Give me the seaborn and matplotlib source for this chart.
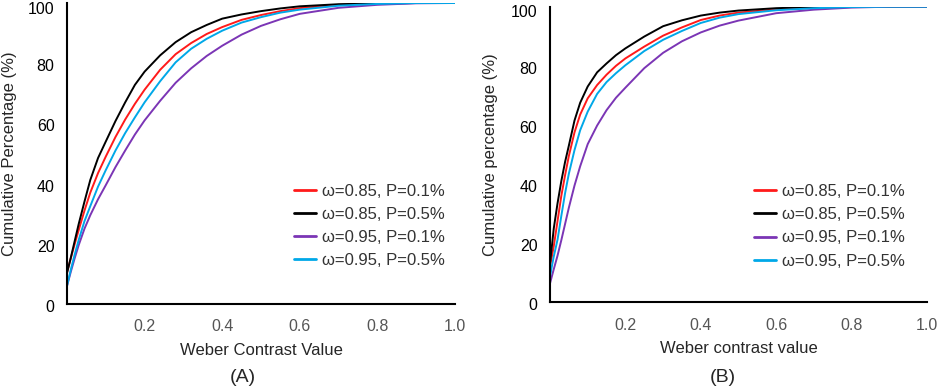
import numpy as np
import pandas as pd
import matplotlib
matplotlib.use("Agg")
import matplotlib.pyplot as plt
import matplotlib.transforms as mtransforms
import seaborn as sns

sns.set_theme(style="white")
plt.rcParams['font.family'] = ['Liberation Sans', 'DejaVu Sans']

series_labels = ["ω=0.85, P=0.1%", "ω=0.85, P=0.5%", "ω=0.95, P=0.1%", "ω=0.95, P=0.5%"]
series_colors = ["#ff1a1a", "#000000", "#7b35b5", "#00a8e8"]

# Panel A
xa = [0, 0.01, 0.02, 0.03, 0.045, 0.06, 0.08, 0.1, 0.125, 0.15, 0.175, 0.2, 0.24, 0.28,
      0.32, 0.36, 0.4, 0.45, 0.5, 0.55, 0.6, 0.7, 0.8, 0.9, 1.0]
a_red    = [10.5, 15.3, 20, 24.5, 31, 37, 43.5, 49, 55.5, 61.3, 66.5, 71.2, 77.8, 83,
            86.7, 89.7, 92, 94.4, 96, 97.3, 98.3, 99.4, 99.8, 100, 100]
a_black  = [10.3, 15.5, 21, 26.5, 34, 41.2, 48.5, 54, 60.8, 67, 72.8, 77.2, 82.6, 87,
            90.3, 92.7, 94.8, 96.2, 97.3, 98.2, 98.9, 99.6, 99.9, 100, 100]
a_purple = [6, 10.8, 15.3, 19.5, 25, 29.5, 34.8, 39.5, 45.5, 51, 56.3, 61, 67.5, 73.5,
            78.3, 82.4, 85.8, 89.5, 92.4, 94.6, 96.4, 98.4, 99.4, 99.9, 100]
a_cyan   = [6, 11.5, 16.5, 21.2, 27.5, 32.5, 39, 44.5, 51, 56.8, 62, 67, 74, 80.3,
            84.8, 88.1, 90.8, 93.5, 95.3, 96.8, 97.8, 99.1, 99.7, 100, 100]

# Panel B
xb = [0, 0.005, 0.01, 0.02, 0.03, 0.04, 0.05, 0.065, 0.08, 0.1, 0.125, 0.15, 0.175, 0.2,
      0.25, 0.3, 0.35, 0.4, 0.45, 0.5, 0.6, 0.7, 0.8, 0.9, 1.0]
b_red    = [12, 15.5, 19, 27.5, 36, 43, 49.5, 57.5, 63.5, 69, 73.5, 77, 80, 82.5,
            86.5, 90.2, 93, 95.5, 97, 98, 99.1, 99.6, 99.9, 100, 100]
b_black  = [13, 19, 25, 33.5, 41, 47.5, 53, 61.5, 67.5, 73, 77.8, 80.8, 83.6, 85.9,
            89.9, 93.4, 95.4, 97, 98, 98.7, 99.5, 99.9, 100, 100, 100]
b_purple = [6.4, 8.8, 11.2, 15.8, 21, 26.5, 32, 39.5, 46, 53.5, 59.8, 65, 69.2, 72.6,
            79.2, 84.4, 88.3, 91.3, 93.6, 95.3, 97.8, 99, 99.7, 100, 100]
b_cyan   = [8.7, 12.2, 15.5, 21.2, 29.2, 36.9, 43.5, 51.5, 58.2, 64.5, 70.5, 74.5, 77.5, 80.2,
            85, 88.8, 91.8, 94.5, 96.3, 97.5, 98.8, 99.5, 99.9, 100, 100]

x_ticks = [0.2, 0.4, 0.6, 0.8, 1.0]
y_ticks = [0, 20, 40, 60, 80, 100]


def make_df(x, cols):
    frames = []
    for lab, vals in zip(series_labels, cols):
        frames.append(pd.DataFrame({"x": x, "y": vals, "series": lab}))
    return pd.concat(frames, ignore_index=True)


dfa = make_df(xa, [a_red, a_black, a_purple, a_cyan])
dfb = make_df(xb, [b_red, b_black, b_purple, b_cyan])

fig = plt.figure(figsize=(9.41, 3.91), dpi=100)
axA = fig.add_axes([67/941, 1-304/391, 388/941, 301/391])
axB = fig.add_axes([550/941, 1-302.3/391, 377/941, 295.6/391])

palette = dict(zip(series_labels, series_colors))

panels = [
    (axA, dfa, "Weber Contrast Value", "Cumulative Percentage (%)", "(A)", 243, (0.585, 0.40), 5, -0.149),
    (axB, dfb, "Weber contrast value", "Cumulative percentage (%)", "(B)", 723, (0.541, 0.40), 4, -0.159),
]

for ax, df, xl, yl, tag, tagx, legpos, top_shift, ylx in panels:
    sns.lineplot(data=df, x="x", y="y", hue="series", hue_order=series_labels,
                 palette=palette, ax=ax, linewidth=1.4, sort=True)
    ax.set_xlim(0, 1.0)
    ax.set_ylim(0, 100)
    ax.set_xticks(x_ticks)
    ax.set_xticklabels([f"{t:.1f}" for t in x_ticks], fontsize=11.5)
    ax.set_yticks(y_ticks)
    ax.set_yticklabels([str(t) for t in y_ticks], fontsize=11.5)
    ax.tick_params(axis="both", direction="in", length=5, width=1.4, colors="black")
    ax.tick_params(axis="x", labelcolor="#555555", pad=11)
    ax.tick_params(axis="y", labelcolor="black", pad=9)
    for s in ["top", "right"]:
        ax.spines[s].set_visible(False)
    for s in ["left", "bottom"]:
        ax.spines[s].set_color("black")
        ax.spines[s].set_linewidth(1.5)
    ax.set_xlabel(xl, fontsize=12, labelpad=6)
    ax.set_ylabel(yl, fontsize=12, va="center")
    ax.yaxis.set_label_coords(ylx, 0.5)
    # nudge y tick labels slightly downward as in the reference
    for lab, val in zip(ax.get_yticklabels(), y_ticks):
        shift = top_shift if val == 100 else 2
        off = mtransforms.ScaledTranslation(0, -shift/100, fig.dpi_scale_trans)
        lab.set_transform(lab.get_transform() + off)
    leg = ax.legend(loc="upper left", bbox_to_anchor=legpos, frameon=False, fontsize=12,
                    handlelength=1.3, handletextpad=0.4, labelspacing=0.49,
                    borderpad=0, borderaxespad=0)
    for line in leg.get_lines():
        line.set_linewidth(2)
    for t in leg.get_texts():
        t.set_color("#333333")
    fig.text(tagx/941, 1-377/391, tag, fontsize=14, ha="center", va="center")

fig.savefig("out.png", dpi=100)
